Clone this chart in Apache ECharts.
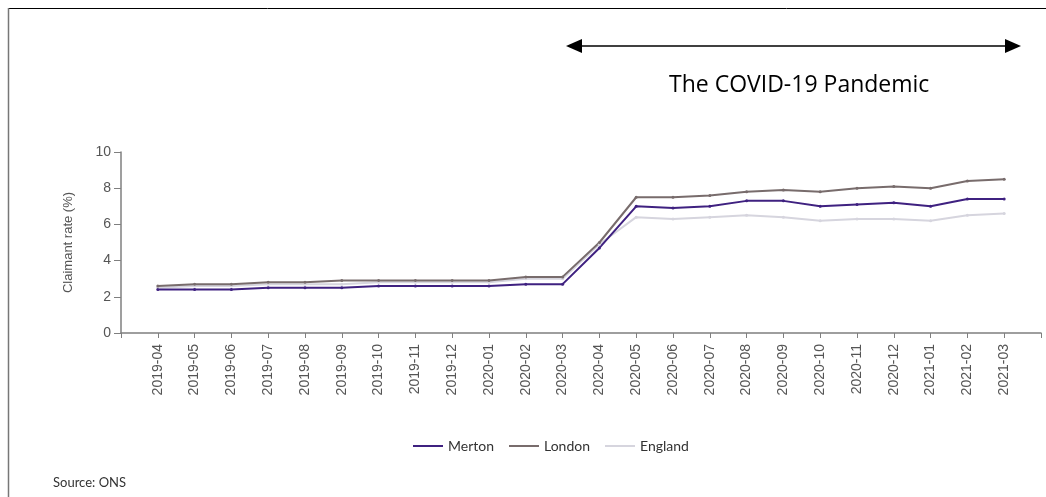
<!DOCTYPE html>
<html>
<head>
<meta charset="utf-8">
<script src="https://cdn.jsdelivr.net/npm/echarts@6/dist/echarts.min.js"></script>
<style>html,body{margin:0;padding:0;background:#fff;}#c{width:1046px;height:497px;}</style>
</head>
<body>
<div id="c"></div>
<script>
var months = ['2019-04','2019-05','2019-06','2019-07','2019-08','2019-09','2019-10','2019-11','2019-12','2020-01','2020-02','2020-03','2020-04','2020-05','2020-06','2020-07','2020-08','2020-09','2020-10','2020-11','2020-12','2021-01','2021-02','2021-03'];
var merton = [2.4,2.4,2.4,2.5,2.5,2.5,2.6,2.6,2.6,2.6,2.7,2.7,4.7,7.0,6.9,7.0,7.3,7.3,7.0,7.1,7.2,7.0,7.4,7.4];
var london = [2.6,2.7,2.7,2.8,2.8,2.9,2.9,2.9,2.9,2.9,3.1,3.1,5.0,7.5,7.5,7.6,7.8,7.9,7.8,8.0,8.1,8.0,8.4,8.5];
var england = [2.5,2.6,2.6,2.7,2.7,2.7,2.8,2.8,2.8,2.8,3.0,3.0,4.9,6.4,6.3,6.4,6.5,6.4,6.2,6.3,6.3,6.2,6.5,6.6];
var yTicks = [0,2,4,6,8,10];

var cats = [''].concat(months).concat(['']);
function pad(a){ return [null].concat(a).concat([null]); }

var chart = echarts.init(document.getElementById('c'));
var axisGrey = '#7f7f7f';
function series(name, data, color){
  return {name:name, type:'line', data:pad(data), symbol:'circle', symbolSize:3,
    lineStyle:{color:color, width:2}, itemStyle:{color:color}, emphasis:{disabled:true}};
}
chart.setOption({
  animation:false,
  grid:{left:121, right:5, top:152, bottom:164},
  xAxis:{type:'category', data:cats, boundaryGap:false,
    axisLine:{lineStyle:{color:axisGrey, width:1.5}},
    axisTick:{show:true, length:5, interval:0, lineStyle:{color:axisGrey}},
    axisLabel:{interval:0, rotate:90, color:'#555', fontFamily:'Liberation Sans', fontSize:14, margin:11}},
  yAxis:{type:'value', min:0, max:10, interval:2, splitLine:{show:false},
    name:'Claimant rate (%)', nameLocation:'middle', nameGap:46, nameRotate:90,
    nameTextStyle:{color:'#555', fontFamily:'Liberation Sans', fontSize:13},
    axisLine:{show:true, lineStyle:{color:axisGrey, width:1.5}},
    axisTick:{show:true, length:7, lineStyle:{color:axisGrey}},
    axisLabel:{color:'#555', fontFamily:'Liberation Sans', fontSize:14, margin:10,
      formatter:function(v){ return yTicks.indexOf(v)>=0 ? String(v) : ''; }}},
  legend:{bottom:39, left:408, itemWidth:30, itemHeight:2, itemGap:15,
    icon:'rect', textStyle:{color:'#333', fontFamily:'Lato', fontSize:14},
    data:['Merton','London','England']},
  series:[
    series('England', england, '#d6d5de'),
    series('London', london, '#786c6c'),
    series('Merton', merton, '#3f2180')
  ],
  graphic:[
    {type:'line', shape:{x1:8, y1:8.5, x2:1046, y2:8.5}, style:{stroke:'#000', lineWidth:1}},
    {type:'line', shape:{x1:8.5, y1:8, x2:8.5, y2:497}, style:{stroke:'#777', lineWidth:1.5}},
    {type:'line', shape:{x1:578, y1:46, x2:1010, y2:46}, style:{stroke:'#000', lineWidth:1.5}},
    {type:'polygon', shape:{points:[[566,46],[582,39],[582,53]]}, style:{fill:'#000'}},
    {type:'polygon', shape:{points:[[1021,46],[1005,39],[1005,53]]}, style:{fill:'#000'}},
    {type:'text', left:669, top:74, style:{text:'The COVID-19 Pandemic', fill:'#000', font:'23px "Open Sans"'}},
    {type:'text', left:53, top:476, style:{text:'Source: ONS', fill:'#333', font:'13px Lato'}}
  ]
});
</script>
</body>
</html>
